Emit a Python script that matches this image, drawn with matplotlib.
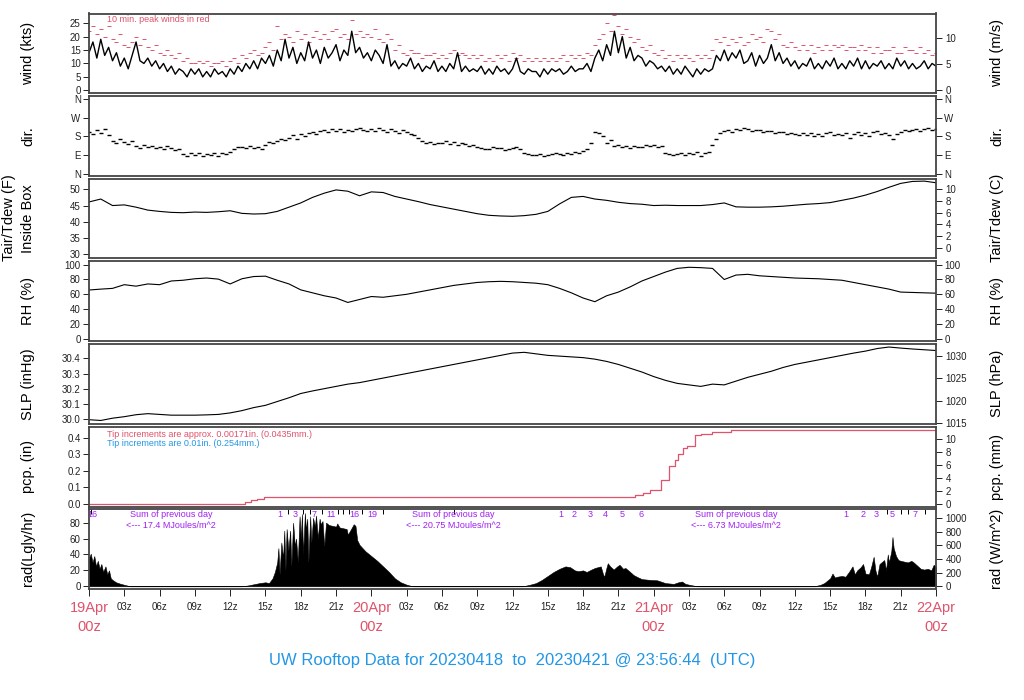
import matplotlib
matplotlib.use("Agg")
import matplotlib.pyplot as plt
import matplotlib.transforms as mtransforms
import numpy as np

plt.rcParams['font.family'] = ['Liberation Sans', 'DejaVu Sans']

RED = '#DF536B'
BLUE = '#2297E6'
PURPLE = '#A020F0'
FRAME = '#444444'

# ---- data (hours since 19Apr 00z) ----
# sustained wind (kts), every 20 min
wind_kts = [14, 18, 12, 19, 13, 16, 11, 14, 9, 12, 8, 13, 18, 11, 10, 12, 9, 11,
            8, 10, 7, 9, 6, 8, 7, 5, 8, 6, 8, 5, 7, 5, 8, 6, 7, 5,
            8, 6, 9, 7, 10, 8, 11, 8, 12, 10, 13, 9, 15, 11, 19, 12, 16, 10,
            14, 11, 18, 12, 15, 10, 16, 12, 14, 17, 11, 15, 13, 22, 14, 16, 12, 14,
            11, 15, 13, 10, 17, 9, 11, 8, 10, 9, 12, 8, 10, 7, 9, 8, 11, 7,
            9, 7, 10, 8, 14, 7, 9, 7, 8, 7, 9, 6, 8, 6, 9, 7, 8, 6,
            8, 12, 7, 6, 8, 7, 7, 5, 8, 6, 8, 7, 8, 6, 7, 9, 7, 8,
            8, 10, 7, 12, 15, 11, 17, 13, 22, 14, 20, 12, 16, 11, 13, 12, 9, 11,
            10, 8, 9, 7, 9, 6, 8, 6, 9, 7, 5, 8, 6, 8, 7, 8, 13, 11,
            15, 11, 14, 12, 15, 10, 11, 14, 9, 13, 10, 12, 17, 11, 14, 10, 12, 9,
            11, 8, 10, 9, 12, 8, 10, 8, 11, 9, 12, 8, 10, 8, 11, 9, 12, 8,
            11, 8, 10, 9, 11, 8, 10, 8, 12, 9, 11, 8, 10, 8, 9, 11, 8, 10, 9]

# 10 min peak winds (kts), every 20 min
peak_kts = [22, 24, 21, 23, 20, 24, 19, 18, 21, 17, 16, 18, 20, 17, 19, 16, 15, 17,
            14, 13, 15, 13, 12, 14, 11, 12, 10, 10, 11, 10, 11, 9, 10, 10, 11, 9,
            11, 12, 10, 13, 12, 14, 15, 13, 14, 16, 18, 15, 24, 19, 21, 20, 18, 22,
            19, 21, 18, 20, 22, 19, 21, 19, 22, 23, 20, 21, 19, 26, 21, 22, 20, 21,
            20, 23, 19, 18, 21, 19, 15, 17, 14, 13, 15, 14, 14, 12, 13, 13, 14, 12,
            13, 12, 14, 15, 13, 14, 13, 12, 13, 12, 13, 11, 12, 11, 13, 12, 13, 11,
            14, 12, 13, 11, 12, 11, 12, 11, 12, 11, 12, 11, 12, 13, 11, 13, 12, 13,
            12, 14, 13, 17, 19, 21, 25, 22, 28, 24, 21, 23, 20, 18, 19, 16, 15, 17,
            14, 13, 15, 12, 13, 11, 13, 12, 13, 12, 11, 13, 12, 13, 12, 15, 19, 18,
            20, 17, 19, 18, 20, 17, 18, 21, 19, 20, 18, 23, 22, 19, 21, 17, 16, 18,
            16, 15, 17, 15, 17, 14, 16, 15, 17, 15, 17, 16, 17, 15, 16, 16, 15, 17,
            15, 16, 14, 16, 14, 15, 15, 16, 14, 14, 16, 15, 15, 14, 16, 14, 15, 13, 14]

# wind direction (deg), every 20 min
wind_dir = [200, 190, 210, 195, 215, 185, 160, 150, 170, 155, 145, 160, 135, 125, 140,
            130, 135, 125, 130, 120, 135, 125, 115, 120, 95, 85, 100, 90, 100, 85,
            95, 90, 100, 85, 100, 95, 105, 120, 130, 130, 125, 135, 125, 130, 120,
            140, 155, 150, 160, 170, 165, 175, 185, 170, 190, 180, 195, 200, 190, 205,
            210, 200, 215, 205, 215, 200, 210, 205, 215, 220, 210, 205, 215, 205, 220,
            210, 200, 215, 205, 195, 210, 200, 190, 185, 175, 160, 150, 155, 145, 150,
            150, 160, 145, 155, 140, 150, 145, 135, 140, 130, 125, 120, 120, 130, 125,
            125, 115, 120, 125, 130, 120, 100, 95, 90, 90, 95, 85, 90, 95, 100,
            95, 90, 100, 95, 105, 100, 110, 120, 150, 200, 195, 180, 150, 165, 135,
            140, 130, 135, 125, 135, 130, 130, 140, 135, 140, 130, 135, 100, 95, 90,
            95, 100, 90, 100, 95, 105, 85, 100, 105, 140, 170, 195, 205, 210, 200,
            215, 210, 220, 215, 205, 210, 210, 200, 205, 205, 195, 200, 200, 190, 195,
            190, 185, 195, 185, 195, 180, 190, 180, 195, 200, 185, 190, 185, 195, 175,
            190, 200, 185, 195, 180, 200, 205, 190, 195, 185, 170, 190, 200, 210, 205,
            210, 215, 205, 215, 220, 210, 215]

# hourly air temperature (F)
temp_f = [46.1, 47.0, 45.0, 45.2, 44.5, 43.6, 43.2, 42.9, 42.8, 43.0, 42.9, 43.1,
          43.4, 42.6, 42.4, 42.5, 43.2, 44.5, 45.8, 47.5, 48.8, 49.8, 49.4, 48.0,
          49.2, 49.0, 47.8, 47.0, 46.2, 45.3, 44.6, 43.9, 43.2, 42.5, 42.0, 41.8,
          41.7, 41.9, 42.3, 43.2, 45.5, 47.5, 47.8, 47.0, 46.6, 46.0, 45.6, 45.4,
          45.0, 45.1, 45.0, 45.0, 45.0, 45.3, 45.8, 44.6, 44.5, 44.5, 44.6, 44.8,
          45.1, 45.4, 45.6, 45.9, 46.6, 47.3, 48.2, 49.3, 50.6, 51.8, 52.4, 52.5, 52.0]

# hourly relative humidity (%)
rh = [65.8, 67, 68, 73, 71, 74, 73, 78, 79, 81, 82, 80.5,
      74, 81, 84, 84.5, 79, 74, 66, 62, 58, 55, 49, 53,
      57, 56, 58, 60, 63, 66, 69, 72, 74, 76, 77, 77.5,
      77, 76, 75, 73, 68, 62, 55, 50, 58, 63, 70, 78,
      84, 90, 95, 96.5, 96, 95, 80, 86, 87, 85, 84, 83,
      82, 81.5, 81, 80, 79, 76, 73, 70, 67, 63, 62.5, 62, 61.5]

# hourly sea level pressure (inHg)
slp_in = [29.995, 29.99, 30.005, 30.015, 30.028, 30.035, 30.03, 30.025, 30.025, 30.025,
          30.027, 30.03, 30.04, 30.055, 30.075, 30.09, 30.115, 30.14, 30.168, 30.185,
          30.2, 30.215, 30.23, 30.24, 30.255, 30.27, 30.285, 30.3, 30.315, 30.33,
          30.345, 30.36, 30.375, 30.39, 30.405, 30.42, 30.435, 30.44, 30.43, 30.42,
          30.415, 30.41, 30.405, 30.395, 30.38, 30.36, 30.335, 30.31, 30.28, 30.255,
          30.235, 30.225, 30.215, 30.23, 30.225, 30.25, 30.275, 30.295, 30.315, 30.34,
          30.36, 30.375, 30.39, 30.405, 30.42, 30.435, 30.448, 30.465, 30.475, 30.468,
          30.462, 30.457, 30.452]

# accumulated precipitation (in)
pcp_t = [0, 13.3, 13.8, 14.3, 14.9, 46.4, 47.1, 47.7, 48.6, 49.3, 49.8, 50.1,
         50.5, 50.8, 51.5, 52.0, 53.0, 54.6, 72]
pcp_in = [0.0, 0.01, 0.02, 0.03, 0.04, 0.050, 0.065, 0.081, 0.142, 0.232, 0.264, 0.303,
          0.339, 0.354, 0.417, 0.425, 0.437, 0.451, 0.451]

# solar radiation (Langley/hr)
rad_t = [0, 0.15, 0.3, 0.45, 0.6, 0.75, 0.9, 1.05, 1.2, 1.4, 1.55, 1.7, 1.85, 2.0, 2.3,
         2.7, 3.1, 3.5, 13.0, 13.5, 14.0, 14.5, 15.0, 15.3, 15.6, 15.8, 16.0, 16.1, 16.2,
         16.35, 16.5, 16.6, 16.7, 16.8, 16.95, 17.1, 17.2, 17.35, 17.5, 17.6, 17.75, 17.9,
         18.0, 18.1, 18.2, 18.35, 18.45, 18.55, 18.65, 18.8, 18.9, 19.05, 19.2, 19.3, 19.45,
         19.6, 19.7, 19.85, 20.0, 20.15, 20.4, 20.7, 21.0, 21.1, 21.3, 21.6, 21.9, 22.0,
         22.2, 22.5, 22.65, 22.8, 23.0, 23.5, 24.0, 24.5, 25.0, 25.5, 26.0, 26.5, 27.0, 27.5,
         36.9, 37.5, 38.0, 38.5, 39.0, 39.5, 40.0, 40.5, 40.9, 41.3, 41.6, 42.0, 42.3, 42.7,
         43.0, 43.5, 43.7, 43.8, 44.0, 44.1, 44.3, 44.6, 44.9, 45.1, 45.4, 45.6, 46.0, 46.3,
         46.7, 47.0, 47.7, 48.3, 49.0, 49.7, 50.1, 50.4, 50.7, 51.0, 51.7,
         61.7, 62.2, 62.5, 63.0, 63.2, 63.4, 63.6, 64.0, 64.3, 64.6, 64.9, 65.1, 65.3, 65.6,
         65.8, 66.0, 66.3, 66.5, 66.7, 66.85, 67.0, 67.2, 67.6, 67.75, 67.9, 68.0, 68.2,
         68.3, 68.4, 68.6, 68.8, 69.0, 69.3, 69.6, 69.9, 70.1, 70.4, 70.7, 71.0, 71.3,
         71.6, 71.8, 72.0]
rad_lgly = [35, 41, 30, 38, 25, 32, 22, 28, 18, 25, 15, 20, 10, 8, 5,
            3, 1.5, 0, 0, 1, 2.5, 4, 5, 4, 10, 18, 30, 48, 15,
            55, 35, 70, 20, 72, 45, 70, 25, 80, 50, 60, 30, 88,
            60, 91, 40, 92, 70, 85, 30, 88, 55, 86, 75, 89, 60,
            85, 78, 82, 50, 80, 77, 76, 75, 79, 74, 73, 72, 65,
            70, 78, 76, 58, 52, 44, 38, 32, 25, 18, 10, 5, 2, 0,
            0, 2, 4, 8, 13, 18, 22, 25, 24, 20, 19, 20, 18, 21,
            23, 25, 15, 12, 24, 29, 25, 21, 25, 27, 22, 23, 18, 14,
            11, 9, 8, 7.5, 4, 3, 5, 6, 3, 2, 0,
            0, 2, 4, 10, 16, 11, 12, 13, 12, 18, 25, 15, 20, 24,
            28, 16, 15, 25, 37, 20, 12, 28, 33, 20, 40, 30, 44,
            62, 48, 38, 33, 32, 31, 30, 32, 30, 26, 22, 21, 22,
            20, 27, 24]

# sunshine counter labels along top of radiation panel
sun_lab_t = [0.26, 16.2, 17.5, 19.1, 20.6, 22.55, 24.1,
             40.1, 41.2, 42.6, 43.9, 45.3, 46.95,
             64.3, 65.8, 66.9, 68.3, 70.2]
sun_lab = ['16', '1', '3', '7', '11', '16', '19',
           '1', '2', '3', '4', '5', '6',
           '1', '2', '3', '5', '7']
sun_tick_t = [0.2, 16.9, 18.2, 18.8, 19.8, 21.2, 21.6, 22.1, 23.2, 25.0,
              31.0, 67.8, 69.0, 69.6, 71.1]
day_sum_t = [7.0, 31.0, 55.0]
day_sum = ['17.4', '20.75', '6.73']

hour_ticks = list(range(0, 73, 3))
day_ticks = [0, 24, 48, 72]
day_names = ['19Apr', '20Apr', '21Apr', '22Apr']

# ---- layout ----
W, H = 1024, 700
LEFT, RIGHT = 89, 936
fig = plt.figure(figsize=(W / 100, H / 100), dpi=100)

def make_ax(top, bot):
    ax = fig.add_axes([LEFT / W, 1 - bot / H, (RIGHT - LEFT) / W, (bot - top) / H])
    ax.set_xlim(0, 72)
    for s in ax.spines.values():
        s.set_color(FRAME)
        s.set_linewidth(1.3)
    ax.tick_params(axis='y', direction='out', length=4, width=0.7, labelsize=7,
                   pad=2, colors='#222222')
    ax.tick_params(axis='x', bottom=False, labelbottom=False)
    return ax

def right_axis(ax, fwd, inv, ticks):
    sec = ax.secondary_yaxis('right', functions=(fwd, inv))
    sec.set_yticks(ticks)
    sec.spines['right'].set_visible(False)
    sec.tick_params(direction='out', length=4, width=0.7, labelsize=7, pad=3,
                    colors='#222222')
    return sec

def side_labels(top, bot, left, right, lx=28, rx=997):
    yc = 1 - (top + bot) / 2 / H
    if left:
        fig.text(lx / W, yc, left, rotation=90, ha='center', va='center', fontsize=10.5)
    if right:
        fig.text(rx / W, yc, right, rotation=90, ha='center', va='center', fontsize=10.5)

t20 = np.linspace(0, 72, len(wind_kts))
t20p = np.linspace(0, 72, len(peak_kts))
t20d = np.linspace(0, 72, len(wind_dir))
t1 = np.arange(len(temp_f))

# wind
ax = make_ax(13.5, 93)
ax.plot(t20p, peak_kts, ls='none', marker='_', ms=2.5, mew=0.7, color=RED)
ax.plot(t20, wind_kts, color='black', lw=1.0)
ax.set_ylim(-1, 28.6)
ax.set_yticks([0, 5, 10, 15, 20, 25])
right_axis(ax, lambda k: k * 0.514444, lambda m: m / 0.514444, [0, 5, 10])
ax.text(0.021, 0.93, '10 min. peak winds in red', transform=ax.transAxes,
        color=RED, fontsize=6.5, va='center')
side_labels(13.5, 93, 'wind (kts)', 'wind (m/s)')

# direction
ax = make_ax(96, 175.5)
ax.plot(t20d, wind_dir, ls='none', marker='_', ms=3, mew=1.0, color='black')
ax.set_ylim(-8, 375)
ax.set_yticks([0, 90, 180, 270, 360])
ax.set_yticklabels(['N', 'E', 'S', 'W', 'N'])
ax.tick_params(axis='y', right=True, labelright=True)
side_labels(96, 175.5, 'dir.', 'dir.')

# temperature
ax = make_ax(178.5, 258)
ax.plot(t1, temp_f, color='black', lw=0.8)
ax.set_ylim(28.9, 53.3)
ax.set_yticks([30, 35, 40, 45, 50])
right_axis(ax, lambda f: (f - 32) * 5 / 9, lambda c: c * 9 / 5 + 32, [0, 2, 4, 6, 8, 10])
side_labels(178.5, 258, 'Inside Box', 'Tair/Tdew (C)')
fig.text(9 / W, 1 - 218 / H, 'Tair/Tdew (F)', rotation=90, ha='center', va='center',
         fontsize=10.5)

# relative humidity
ax = make_ax(260.7, 341)
ax.plot(t1, rh, color='black', lw=0.8)
ax.set_ylim(-3.1, 105.4)
ax.set_yticks([0, 20, 40, 60, 80, 100])
ax.tick_params(axis='y', right=True, labelright=True)
side_labels(260.7, 341, 'RH (%)', 'RH (%)')

# pressure
ax = make_ax(344, 423.5)
ax.plot(t1, slp_in, color='black', lw=0.8)
ax.set_ylim(29.97, 30.495)
ax.set_yticks([30.0, 30.1, 30.2, 30.3, 30.4])
ax.set_yticklabels(['30.0', '30.1', '30.2', '30.3', '30.4'])
right_axis(ax, lambda p: p * 33.8639, lambda h: h / 33.8639, [1015, 1020, 1025, 1030])
side_labels(344, 423.5, 'SLP (inHg)', 'SLP (hPa)')

# precipitation
ax = make_ax(426.5, 507)
ax.plot(pcp_t, pcp_in, color=RED, lw=0.9, drawstyle='steps-post')
ax.set_ylim(-0.021, 0.47)
ax.set_yticks([0.0, 0.1, 0.2, 0.3, 0.4])
right_axis(ax, lambda i: i * 25.4, lambda m: m / 25.4, [0, 2, 4, 6, 8, 10])
ax.text(0.021, 0.905, 'Tip increments are approx. 0.00171in. (0.0435mm.)',
        transform=ax.transAxes, color=RED, fontsize=6.5, va='center')
ax.text(0.021, 0.795, 'Tip increments are 0.01in. (0.254mm.)',
        transform=ax.transAxes, color=BLUE, fontsize=6.5, va='center')
side_labels(426.5, 507, 'pcp. (in)', 'pcp. (mm)')

# radiation
ax = make_ax(509, 588.5)
ax.fill_between(rad_t, 0, rad_lgly, color='black', lw=0.4)
ax.set_ylim(-2.8, 97.2)
ax.set_yticks([0, 20, 40, 60, 80])
right_axis(ax, lambda l: l * 11.622, lambda w: w / 11.622, [0, 200, 400, 600, 800, 1000])
top_tr = mtransforms.blended_transform_factory(ax.transData, ax.transAxes)
ax.vlines(sun_tick_t, 0.94, 1.0, transform=top_tr, color='black', lw=0.7)
for x, s in zip(sun_lab_t, sun_lab):
    ax.text(x, 0.925, s, transform=top_tr, color=PURPLE, fontsize=6.5,
            ha='center', va='center')
for x, s in zip(day_sum_t, day_sum):
    ax.text(x, 0.925, 'Sum of previous day', transform=top_tr, color=PURPLE,
            fontsize=6.5, ha='center', va='center')
    ax.text(x, 0.795, '<--- %s MJoules/m^2' % s, transform=top_tr, color=PURPLE,
            fontsize=6.5, ha='center', va='center')
side_labels(509, 588.5, 'rad(Lgly/hr)', 'rad (W/m^2)')

ax.set_xticks(hour_ticks)
ax.set_xticklabels(['' if h % 24 == 0 else '%02dz' % (h % 24) for h in hour_ticks])
ax.tick_params(axis='x', bottom=True, labelbottom=True, direction='out', length=5,
               width=0.7, labelsize=7, pad=5, colors='#222222')
bot_tr = mtransforms.blended_transform_factory(ax.transData, fig.transFigure)
for x, s in zip(day_ticks, day_names):
    ax.text(x, 1 - 608 / H, s, transform=bot_tr, color=RED, fontsize=10.5,
            ha='center', va='center')
    ax.text(x, 1 - 627 / H, '00z', transform=bot_tr, color=RED, fontsize=10.5,
            ha='center', va='center')

fig.text(0.5 * (LEFT + RIGHT) / W, 1 - 660 / H,
         'UW Rooftop Data for 20230418  to  20230421 @ 23:56:44  (UTC)',
         color=BLUE, fontsize=12, ha='center', va='center')

fig.savefig('out.png', dpi=100)
